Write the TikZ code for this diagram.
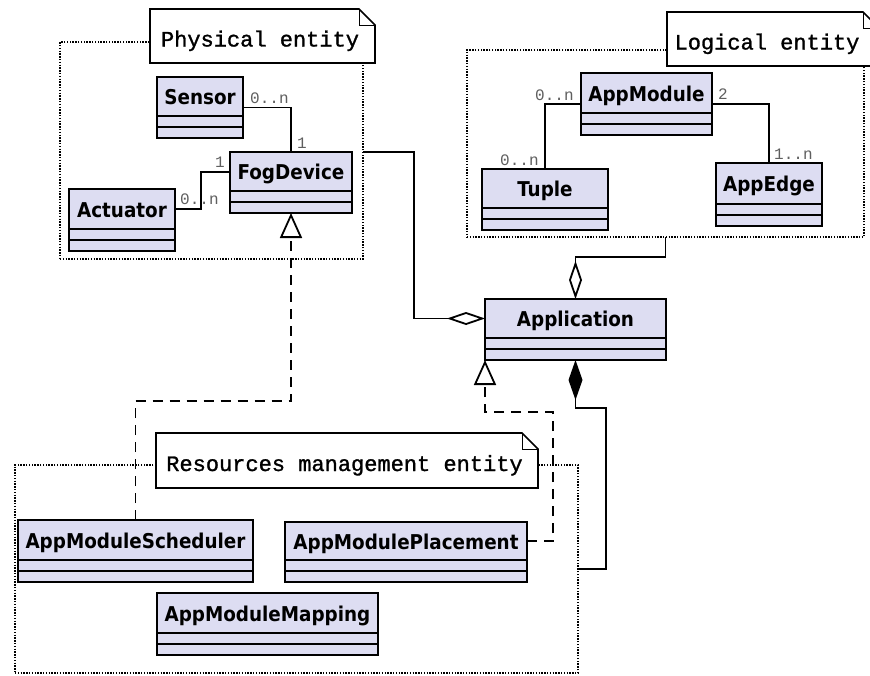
\documentclass[tikz,border=0pt]{standalone}
\usepackage{fontspec}
\newfontfamily\notefont{Liberation Mono}[FakeBold=1.2]
\newfontfamily\multfont{Liberation Mono}
\newfontfamily\classfont{DejaVu Sans Condensed}
\usetikzlibrary{arrows.meta,calc}

\definecolor{classfill}{RGB}{221,221,242}
\definecolor{multgray}{RGB}{95,95,95}

\tikzset{
  classbox/.style={draw=black, line width=1.8pt, fill=classfill, inner sep=0pt, outer sep=0pt},
  classname/.style={font=\classfont\bfseries\fontsize{20.4}{24}\selectfont, inner sep=0pt, anchor=base},
  pkgbox/.style={draw=black, line width=1.8pt, dash pattern=on 1.4pt off 1.4pt, inner sep=0pt, outer sep=0pt},
  noteframe/.style={inner sep=0pt, outer sep=0pt},
  notetext/.style={font=\notefont\fontsize{22}{26}\selectfont, inner sep=0pt, anchor=base},
  mult/.style={font=\multfont\fontsize{16}{18}\selectfont, text=multgray, inner sep=0pt, anchor=base west},
  assoc/.style={draw=black, line width=1.8pt},
  aggr/.style={assoc, -{Diamond[open, length=38pt, width=13pt]}},
  compo/.style={assoc, -{Diamond[length=40pt, width=14pt]}},
  realize/.style={assoc, dash pattern=on 10pt off 7pt, -{Triangle[open, length=25pt, width=22pt]}},
}

% class box: id, x1, y1, x2, y2, name (y grows downwards)
\newcommand{\umlclass}[6]{%
  \node[classbox, minimum width={#4-#2}, minimum height={#5-#3}] (#1) at ({(#2+#4)/2},{(#3+#5)/2}) {};
  \draw[line width=1.8pt] ($(#1.south west)+(0,-22)$) -- ($(#1.south east)+(0,-22)$)
        ($(#1.south west)+(0,-11)$) -- ($(#1.south east)+(0,-11)$);
  \node[classname] (#1-name) at ({(#2+#4)/2},{(#3+#5-22)/2+8}) {#6};
}

% package frame: id, x1, y1, x2, y2
\newcommand{\umlpackage}[5]{%
  \node[pkgbox, minimum width={#4-#2}, minimum height={#5-#3}] (#1) at ({(#2+#4)/2},{(#3+#5)/2}) {};
}

% note with folded corner: id, x1, y1, x2, y2, text centre x, text
\newcommand{\umlnote}[7]{%
  \node[noteframe, minimum width={#4-#2}, minimum height={#5-#3}] (#1) at ({(#2+#4)/2},{(#3+#5)/2}) {};
  \filldraw[fill=white, draw=black, line width=1.6pt, line join=miter]
    (#1.south west) -- (#1.north west) -- ($(#1.north east)+(-16,0)$)
    -- ($(#1.north east)+(0,16)$) -- (#1.south east) -- cycle;
  \draw[line width=0.9pt] ($(#1.north east)+(-16,0)$) -- ++(0,16) -- ++(16,0);
  \node[notetext] (#1-text) at (#6,{(#3+#5)/2+10.5}) {#7};
}

\begin{document}
\begin{tikzpicture}[x=1pt, y=-1pt]
  \useasboundingbox (0,0) rectangle (870,675);
  \clip (0,0) rectangle (870,675);
  \fill[white] (0,0) rectangle (870,675);

  % package frames
  \umlpackage{physpkg}{60}{42}{363}{259}
  \umlpackage{logpkg}{467}{50}{864}{237}
  \umlpackage{respkg}{15}{465}{578}{673}

  % package titles
  \umlnote{physnote}{150}{9}{375}{63}{260}{Physical entity}
  \umlnote{lognote}{667}{12}{879}{66}{767}{Logical entity}
  \umlnote{resnote}{156}{433}{538}{488}{344.5}{Resources management entity}

  % classes
  \umlclass{sensor}{157}{77}{243}{138}{Sensor}
  \umlclass{fog}{230}{152}{352}{213}{FogDevice}
  \umlclass{actuator}{69}{189}{175}{251}{Actuator}
  \umlclass{appmodule}{581}{73}{712}{135}{AppModule}
  \umlclass{tuple}{482}{169}{608}{230}{Tuple}
  \umlclass{appedge}{716}{163}{822}{226}{AppEdge}
  \umlclass{app}{485}{299}{666}{360}{Application}
  \umlclass{sched}{18}{520}{253}{582}{AppModuleScheduler}
  \umlclass{place}{285}{522}{527}{582}{AppModulePlacement}
  \umlclass{mapping}{157}{593}{378}{655}{AppModuleMapping}

  % associations inside the packages
  \draw[assoc] (sensor.east) -| (fog.north);
  \draw[assoc] ($(actuator.east)+(0,-11)$) -- ++(26,0) |- ($(fog.west)+(0,-10.5)$);
  \draw[assoc] (appmodule.west) -| (tuple.north);
  \draw[assoc] (appmodule.east) -| (appedge.north);

  % multiplicities
  \node[mult] (m-sensor) at (250,103) {0..n};
  \node[mult] (m-fogtop) at (297,148) {1};
  \node[mult] (m-fogleft) at (215,167) {1};
  \node[mult] (m-actuator) at (180,204) {0..n};
  \node[mult] (m-modleft) at (535,100) {0..n};
  \node[mult] (m-tuple) at (500,165) {0..n};
  \node[mult] (m-modright) at (718,99) {2};
  \node[mult] (m-edge) at (774,159) {1..n};

  % aggregations into Application
  \draw[aggr] (physpkg.east |- fog.north) -- ++(51,0) |- ($(app.west)+(0,-11)$);
  \draw[aggr] (logpkg.south) -- ++(0,20) -| (app.north);

  % composition with the resources management package
  \draw[compo] (respkg.east) -- ++(28,0) |- ($(app.south)+(0,48)$) -- (app.south);

  % realizations
  \draw[realize] (sched.north) -- ++(0,-119) -| (fog.south);
  \draw[realize] ($(place.east)+(0,-11)$) -- ++(26,0) |- ($(app.south west)+(0,52)$) -- (app.south west);
\end{tikzpicture}
\end{document}
